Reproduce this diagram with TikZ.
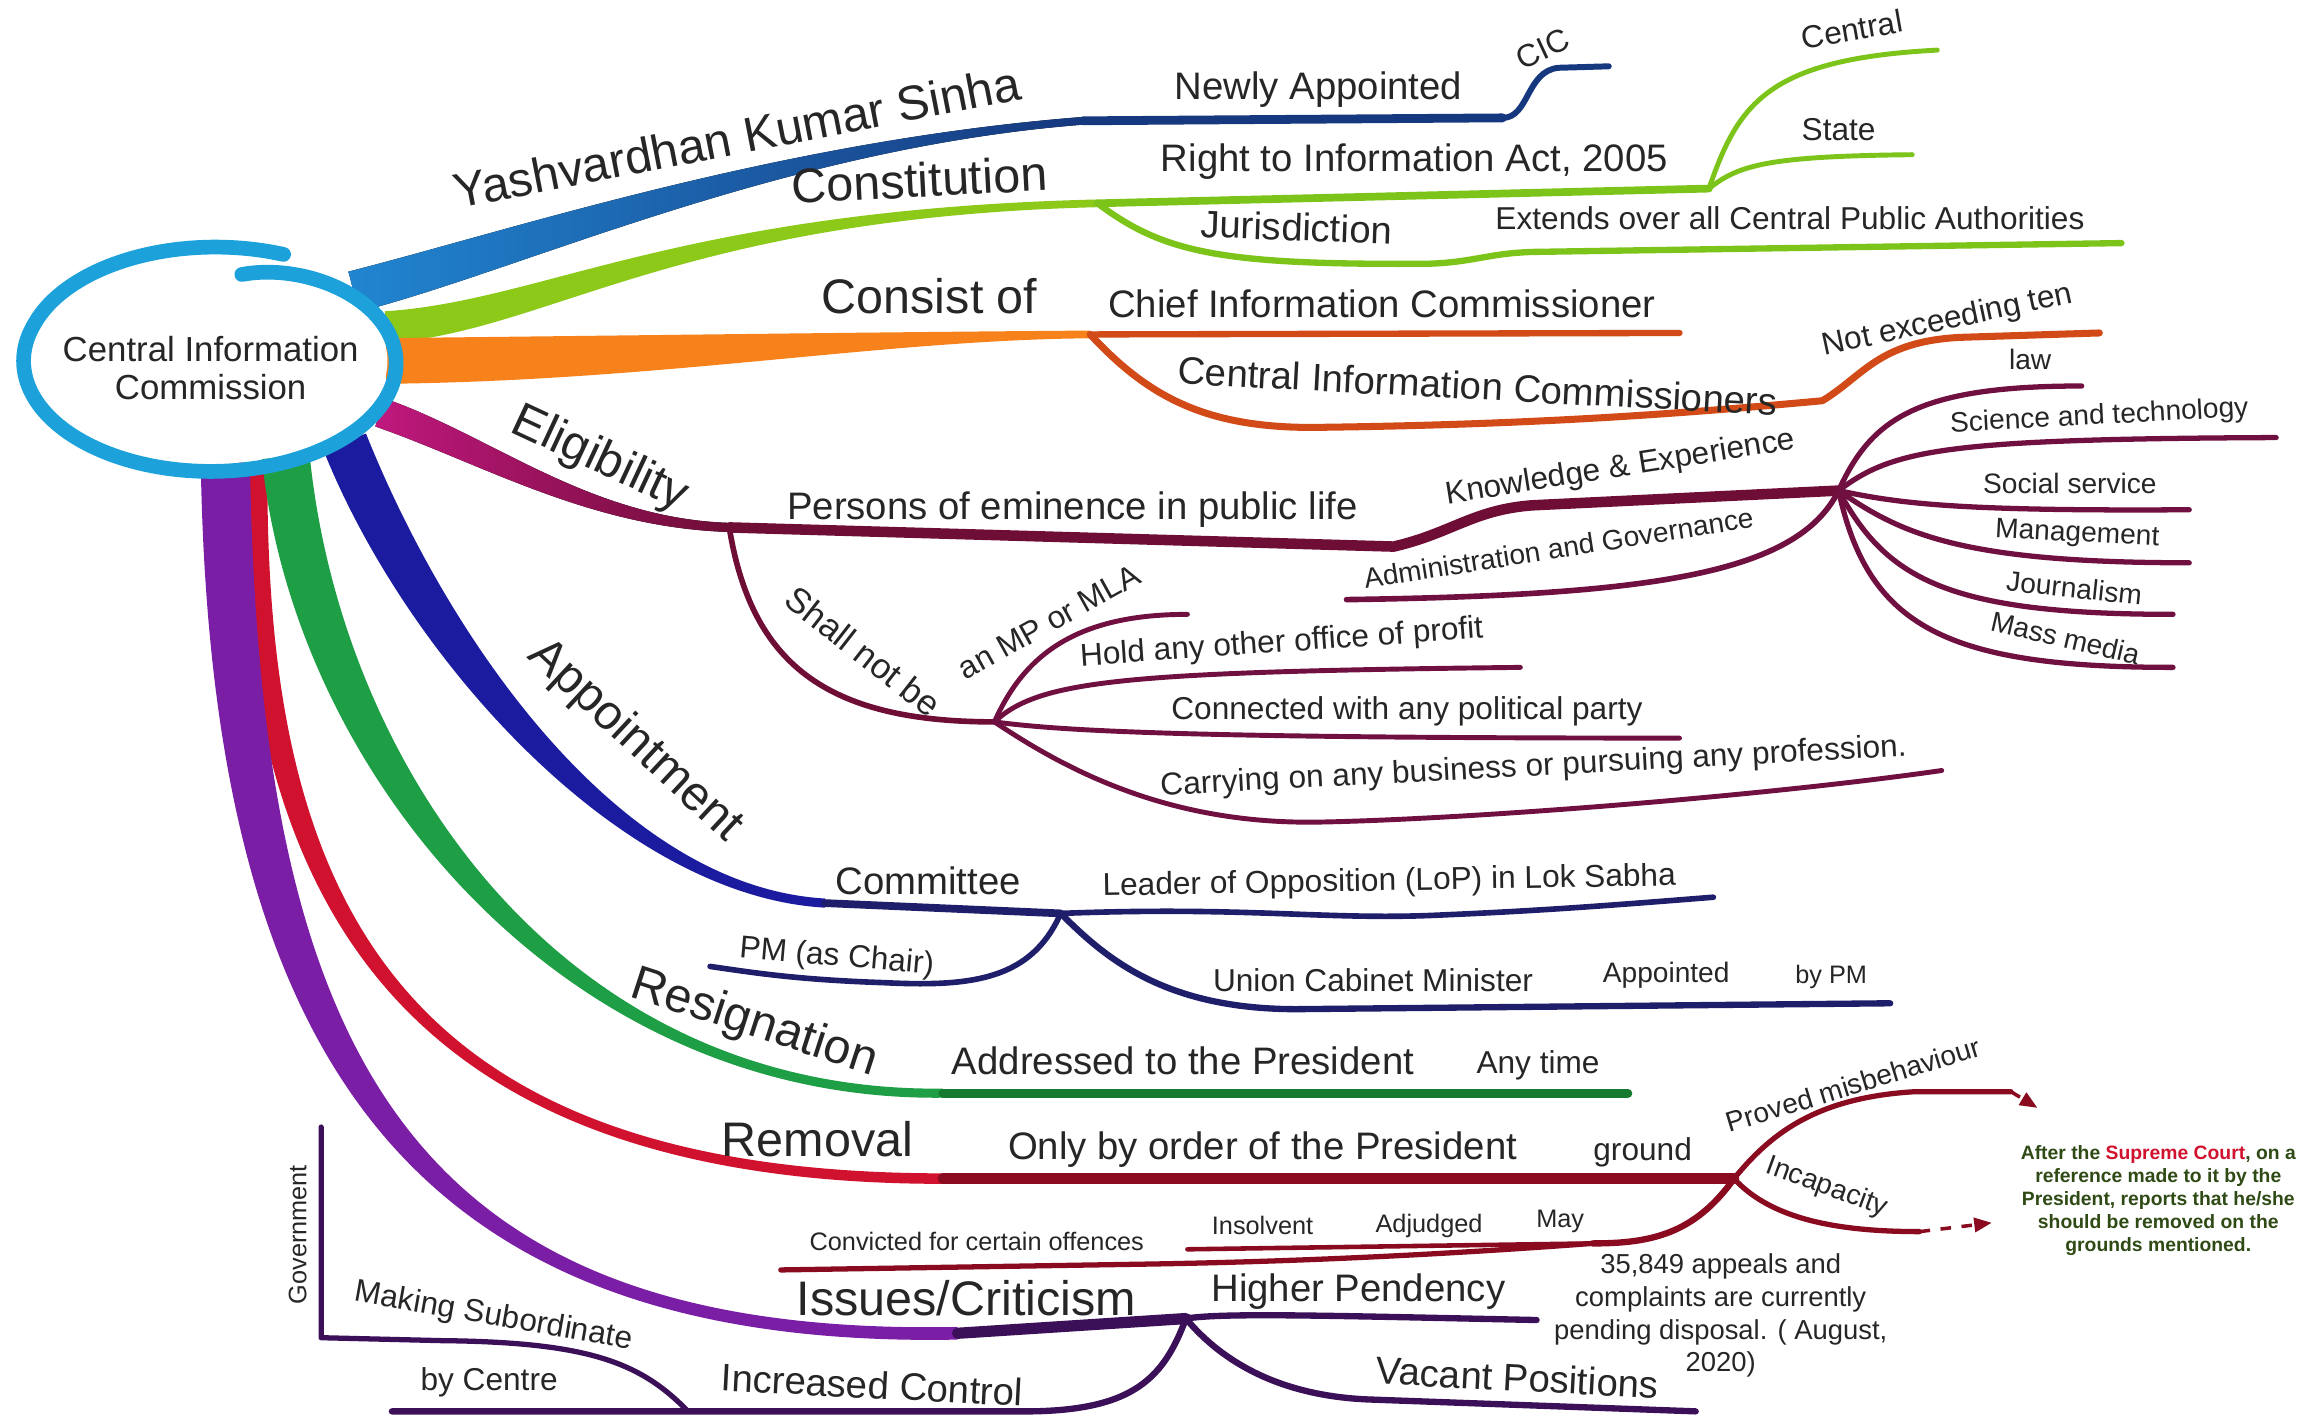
\documentclass[tikz,border=0pt]{standalone}
\usepackage{fontspec}
\setmainfont{Liberation Sans}
\usetikzlibrary{calc,arrows.meta}

\definecolor{ringcyan}{HTML}{1DA1DB}
\definecolor{yashblue}{HTML}{2185D0}
\definecolor{yashnavy}{HTML}{16387F}
\definecolor{limefill}{HTML}{8CC919}
\definecolor{limeline}{HTML}{7CC31A}
\definecolor{orangefill}{HTML}{F7821B}
\definecolor{orangeline}{HTML}{D24A17}
\definecolor{elimag}{HTML}{C0187E}
\definecolor{elidark}{HTML}{6E0D36}
\definecolor{fanline}{HTML}{701040}
\definecolor{apfill}{HTML}{1B1BA0}
\definecolor{apline}{HTML}{1E1E6A}
\definecolor{resfill}{HTML}{1E9E45}
\definecolor{resline}{HTML}{167A30}
\definecolor{remfill}{HTML}{D0122E}
\definecolor{remline}{HTML}{8A0B1F}
\definecolor{isfill}{HTML}{7A1FA5}
\definecolor{isline}{HTML}{3B1058}
\definecolor{notegreen}{HTML}{2F4A14}

\tikzset{
  lbl/.style={inner sep=0pt, text=black!85},
  big/.style={lbl, font=\fontsize{13.8}{16}\selectfont},
  mid/.style={lbl, font=\fontsize{10.9}{13}\selectfont},
  sml/.style={lbl, font=\fontsize{9}{11}\selectfont},
  fan/.style={lbl, font=\fontsize{8}{10}\selectfont},
  tny/.style={lbl, font=\fontsize{7.2}{9}\selectfont},
  ln/.style={line cap=round, line join=round},
  declare function={rf(\x)=1-0.2*exp(-(\x+78)/25)+0.04*(\x>200)*(\x-200)/92;},
}

% tapered main branch: fill, start, control 1, control 2, end, half width at start, half width at end
\newcommand{\branchfill}[7]{%
  \fill[#1] ($#2!#6!90:#3$) .. controls ($#3!#6!-90:#2$) and ($#4!#7!90:#5$) .. ($#5!#7!-90:#4$)
    -- ($#5!#7!90:#4$) .. controls ($#4!#7!-90:#5$) and ($#3!#6!90:#2$) .. ($#2!#6!-90:#3$) -- cycle;}

\begin{document}
\begin{tikzpicture}[x=0.14732mm, y=-0.14732mm]
\useasboundingbox (0,0) rectangle (1568,963);

\coordinate (hub) at (143,245);

% Yashvardhan Kumar Sinha
\coordinate (yk0) at (240,198);
\coordinate (yk1) at (735,82);
\coordinate (yk2) at (1020,80);
\coordinate (yk3) at (1092,45);
\branchfill{left color=yashblue, right color=yashnavy}{(yk0)}{(350,170)}{(530,98)}{(yk1)}{5.9pt}{1.1pt}
\draw[ln, yashnavy, line width=2.5pt] (yk1) -- (yk2);
\draw[ln, yashnavy, line width=1.7pt] (yk2) .. controls (1038,80) and (1036,48) .. (1058,46) -- (yk3);

% Constitution
\coordinate (ct0) at (262,222);
\coordinate (ct1) at (745,138);
\coordinate (ct2) at (1160,128);
\coordinate (ct3) at (1315,34);
\coordinate (ct4) at (1298,105);
\coordinate (ct5) at (1440,165);
\branchfill{limefill}{(ct0)}{(370,215)}{(460,145)}{(ct1)}{4.5pt}{1.1pt}
\draw[ln, limeline, line width=2.2pt] (ct1) -- (ct2);
\draw[ln, limeline, line width=1.4pt] (ct2) .. controls (1180,70) and (1200,40) .. (ct3);
\draw[ln, limeline, line width=1.4pt] (ct2) .. controls (1180,112) and (1200,106) .. (ct4);
\draw[ln, limeline, line width=1.8pt] (ct1) .. controls (790,172) and (830,180) .. (970,179)
  .. controls (1000,178) and (1010,172) .. (1040,171) -- (ct5);

% Consist of
\coordinate (co0) at (262,245);
\coordinate (co1) at (740,227);
\coordinate (co2) at (1140,226);
\coordinate (co3) at (1237,272);
\coordinate (co4) at (1425,226);
\branchfill{orangefill}{(co0)}{(450,243)}{(600,228)}{(co1)}{6.5pt}{1.1pt}
\draw[ln, orangeline, line width=1.8pt] (co1) -- (co2);
\draw[ln, orangeline, line width=2pt] (co1) .. controls (780,270) and (820,292) .. (900,290)
  .. controls (1050,288) and (1150,280) .. (co3) .. controls (1265,255) and (1275,232) .. (1330,229) -- (co4);

% Eligibility
\coordinate (el0) at (258,280);
\coordinate (el1) at (495,358);
\coordinate (el2) at (946,371);
\coordinate (el3) at (1248,333);
\coordinate (el4) at (914,407);
\branchfill{left color=elimag, right color=elidark}{(el0)}{(330,305)}{(400,355)}{(el1)}{4.2pt}{1.3pt}
\draw[ln, elidark, line width=3pt] (el1) -- (el2) .. controls (985,362) and (1000,346) .. (1040,343) -- (el3);
\draw[ln, fanline, line width=1.6pt] (el3) .. controls (1220,390) and (1120,404) .. (el4);
\coordinate (law) at (1413,262);
\coordinate (sci) at (1545,297);
\coordinate (soc) at (1486,346);
\coordinate (mgt) at (1486,382);
\coordinate (jou) at (1475,417);
\coordinate (mas) at (1475,453);
\draw[ln, fanline, line width=1.5pt] (el3) .. controls (1270,285) and (1300,262) .. (law);
\draw[ln, fanline, line width=1.5pt] (el3) .. controls (1285,305) and (1320,298) .. (sci);
\draw[ln, fanline, line width=1.5pt] (el3) .. controls (1290,342) and (1330,347) .. (soc);
\draw[ln, fanline, line width=1.5pt] (el3) .. controls (1290,362) and (1330,382) .. (mgt);
\draw[ln, fanline, line width=1.5pt] (el3) .. controls (1280,392) and (1320,417) .. (jou);
\draw[ln, fanline, line width=1.5pt] (el3) .. controls (1268,425) and (1320,453) .. (mas);
\coordinate (sn) at (675,490);
\coordinate (mla) at (806,417);
\coordinate (hold) at (1032,453);
\coordinate (party) at (1140,501);
\coordinate (prof) at (1318,523);
\draw[ln, elidark, line width=1.6pt] (el1) .. controls (510,450) and (560,490) .. (sn);
\draw[ln, fanline, line width=1.4pt] (sn) .. controls (695,445) and (730,417) .. (mla);
\draw[ln, fanline, line width=1.4pt] (sn) .. controls (705,462) and (760,456) .. (hold);
\draw[ln, fanline, line width=1.4pt] (sn) .. controls (720,496) and (800,501) .. (party);
\draw[ln, fanline, line width=1.4pt] (sn) .. controls (720,520) and (790,560) .. (896,558)
  .. controls (1000,556) and (1200,540) .. (prof);

% Appointment
\coordinate (ap0) at (234,300);
\coordinate (ap1) at (560,613);
\coordinate (ap2) at (720,620);
\coordinate (lop) at (1163,609);
\coordinate (pmc) at (482,656);
\coordinate (ucm) at (1283,681);
\branchfill{apfill}{(ap0)}{(290,440)}{(420,605)}{(ap1)}{6.5pt}{1.3pt}
\draw[ln, apline, line width=2.2pt] (ap1) -- (ap2);
\draw[ln, apline, line width=1.6pt] (ap2) .. controls (850,615) and (900,625) .. (980,621)
  .. controls (1050,618) and (1100,614) .. (lop);
\draw[ln, apline, line width=1.6pt] (ap2) .. controls (700,665) and (660,670) .. (600,667)
  .. controls (540,665) and (510,660) .. (pmc);
\draw[ln, apline, line width=1.8pt] (ap2) .. controls (750,650) and (790,685) .. (880,685) -- (ucm);

% Removal
\coordinate (rm0) at (172,314);
\coordinate (rm1) at (640,800);
\coordinate (rm2) at (1177,800);
\coordinate (pm1) at (1365,741);
\coordinate (pm2) at (1383,752);
\coordinate (ic1) at (1303,836);
\coordinate (ic2) at (1352,830);
\coordinate (may) at (1081,844);
\coordinate (ins) at (806,848);
\coordinate (cv) at (530,862);
\branchfill{remfill}{(rm0)}{(170,600)}{(260,800)}{(rm1)}{4pt}{1.5pt}
\draw[ln, remline, line width=3pt] (rm1) -- (rm2);
\draw[ln, remline, line width=1.5pt] (rm2) .. controls (1200,772) and (1230,745) .. (1300,741) -- (pm1);
\draw[remline, line width=1pt, dashed, -{Triangle[length=5pt, width=4pt]}] (pm1) -- (pm2);
\draw[ln, remline, line width=1.5pt] (rm2) .. controls (1200,825) and (1240,836) .. (ic1);
\draw[remline, line width=1pt, dashed, -{Triangle[length=5pt, width=4pt]}] (ic1) -- (ic2);
\draw[ln, remline, line width=1.8pt] (rm2) .. controls (1150,838) and (1120,844) .. (may);
\draw[ln, remline, line width=1.3pt] (may) -- (ins);
\draw[ln, remline, line width=1.5pt] (may) .. controls (1000,850) and (900,856) .. (781,858) -- (cv);

% Resignation
\coordinate (rs0) at (194,310);
\coordinate (rs1) at (640,742);
\coordinate (rs2) at (1105,742);
\branchfill{resfill}{(rs0)}{(215,520)}{(380,745)}{(rs1)}{6.8pt}{1.3pt}
\draw[ln, resline, line width=2.5pt] (rs1) -- (rs2);

% Issues/Criticism
\coordinate (is0) at (153,316);
\coordinate (is1) at (650,905);
\coordinate (is2) at (805,895);
\coordinate (hp) at (1043,896);
\coordinate (vp) at (1151,958);
\coordinate (icx) at (467,958);
\coordinate (bc) at (266,958);
\coordinate (gv0) at (218,908);
\coordinate (gv1) at (218,765);
\branchfill{isfill}{(is0)}{(160,720)}{(280,912)}{(is1)}{7pt}{1.8pt}
\draw[ln, isline, line width=3.2pt] (is1) -- (is2);
\draw[ln, isline, line width=1.8pt] (is2) .. controls (830,891) and (900,893) .. (hp);
\draw[ln, isline, line width=1.8pt] (is2) .. controls (830,925) and (870,948) .. (931,950) -- (vp);
\draw[ln, isline, line width=1.8pt] (is2) .. controls (790,935) and (770,957) .. (700,958) -- (icx) -- (bc);
\draw[ln, isline, line width=1.5pt] (icx) .. controls (435,925) and (400,911) .. (300,910) -- (gv0) -- (gv1);

% hub
\fill[white] (hub) ellipse [x radius=120, y radius=69];
\draw[ringcyan, line width=1.47mm, line cap=round] plot[domain=-78:292, samples=120, smooth]
  ({143+127*rf(\x)*cos(\x)}, {245+75*rf(\x)*sin(\x)});
\node[lbl, align=center, font=\fontsize{9.9}{10.9}\selectfont] (cic) at (143,250) {Central Information\\Commission};

% labels
\node[big, rotate=11] (yks) at (500,93) {Yashvardhan Kumar Sinha};
\node[mid] (nwa) at (895,61) {Newly Appointed};
\node[sml, rotate=25] (cicl) at (1047,33) {CIC};
\node[big, rotate=3] (cnst) at (624,122) {Constitution};
\node[mid] (rti) at (960,110) {Right to Information Act, 2005};
\node[sml, rotate=10] (cntr) at (1257,20) {Central};
\node[sml] (stat) at (1248,88) {State};
\node[mid, rotate=-2] (jur) at (880,154) {Jurisdiction};
\node[sml] (ext) at (1215,148) {Extends over all Central Public Authorities};
\node[big] (cons) at (631,201) {Consist of};
\node[mid] (chief) at (938,206) {Chief Information Commissioner};
\node[mid, rotate=-3] (cics) at (1003,262) {Central Information Commissioners};
\node[sml, rotate=12] (ten) at (1322,218) {Not exceeding ten};
\node[big, rotate=-25] (elig) at (407,312) {Eligibility};
\node[mid] (pers) at (728,346) {Persons of eminence in public life};
\node[sml, rotate=9] (know) at (1100,318) {Knowledge \& Experience};
\node[fan, rotate=9] (adm) at (1058,372) {Administration and Governance};
\node[fan] (lawl) at (1378,244) {law};
\node[fan, rotate=3] (scil) at (1425,283) {Science and technology};
\node[fan] (socl) at (1405,328) {Social service};
\node[fan, rotate=-3] (mgtl) at (1410,363) {Management};
\node[fan, rotate=-6] (joul) at (1408,399) {Journalism};
\node[fan, rotate=-13] (masl) at (1402,433) {Mass media};
\node[lbl, font=\fontsize{10}{12}\selectfont, rotate=-38] (shal) at (586,442) {Shall not be};
\node[sml, rotate=29] (mlal) at (712,422) {an MP or MLA};
\node[sml, rotate=4] (hldl) at (870,437) {Hold any other office of profit};
\node[sml] (prtl) at (955,483) {Connected with any political party};
\node[sml, rotate=3] (prfl) at (1041,521) {Carrying on any business or pursuing any profession.};
\node[big, rotate=-43] (appt) at (431,503) {Appointment};
\node[mid] (comm) at (630,598) {Committee};
\node[sml, rotate=1] (lopl) at (943,599) {Leader of Opposition (LoP) in Lok Sabha};
\node[sml, rotate=-5] (pmcl) at (568,650) {PM (as Chair)};
\node[sml] (ucml) at (932,665) {Union Cabinet Minister};
\node[fan] (apdl) at (1131,662) {Appointed};
\node[tny] (bypm) at (1243,663) {by PM};
\node[big, rotate=-18] (resg) at (512,695) {Resignation};
\node[mid] (addr) at (803,720) {Addressed to the President};
\node[sml] (anyt) at (1044,723) {Any time};
\node[big] (remv) at (555,773) {Removal};
\node[mid] (ordr) at (857,780) {Only by order of the President};
\node[sml] (grnd) at (1115,782) {ground};
\node[fan, rotate=17] (misb) at (1258,736) {Proved misbehaviour};
\node[fan, rotate=-20] (incp) at (1240,806) {Incapacity};
\node[tny] (cnvl) at (663,843) {Convicted for certain offences};
\node[tny] (insl) at (857,832) {Insolvent};
\node[tny] (adjl) at (970,832) {Adjudged};
\node[tny] (mayl) at (1059,829) {May};
\node[lbl, text=notegreen, align=center, font=\bfseries\fontsize{5.5}{6.5}\selectfont] (note) at (1465,815)
  {After the \textcolor{remfill}{Supreme Court}, on a\\reference made to it by the\\President, reports that he/she\\should be removed on the\\grounds mentioned.};
\node[big] (issu) at (656,881) {Issues/Criticism};
\node[mid] (hpen) at (922,877) {Higher Pendency};
\node[lbl, align=center, font=\fontsize{7.8}{9.3}\selectfont] (pend) at (1168,893)
  {35,849 appeals and\\complaints are currently\\pending disposal. ( August,\\2020)};
\node[mid, rotate=-3] (vacp) at (1030,935) {Vacant Positions};
\node[mid, rotate=-3] (incc) at (592,940) {Increased Control};
\node[sml, rotate=-10] (subo) at (335,894) {Making Subordinate};
\node[sml] (bycl) at (332,938) {by Centre};
\node[tny, rotate=90] (govl) at (202,838) {Government};
\end{tikzpicture}
\end{document}
